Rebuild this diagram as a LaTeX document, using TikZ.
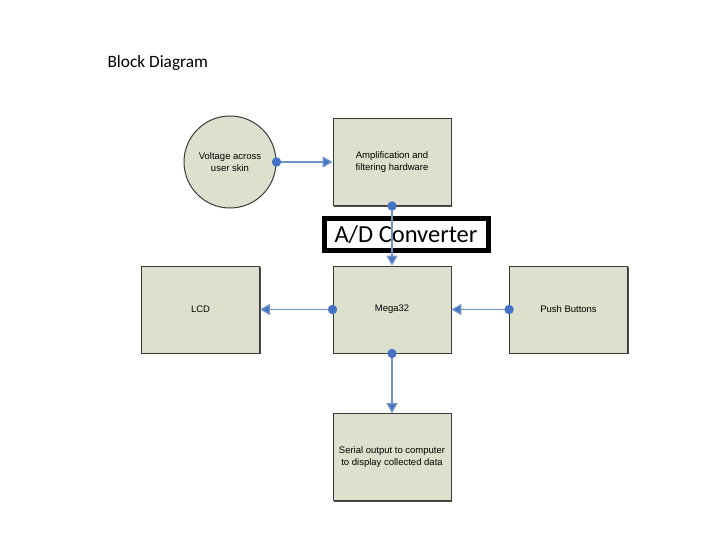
\documentclass[tikz,border=0pt]{standalone}
\usepackage{fontspec}
\setmainfont{Liberation Sans}
\newfontfamily\calib{Carlito}
\usetikzlibrary{arrows.meta,shadows}
\definecolor{boxfill}{HTML}{DDE0CC}
\definecolor{boxline}{HTML}{3A3A3A}
\definecolor{linkblue}{HTML}{6F93C6}
\definecolor{dotblue}{HTML}{4472C4}
\tikzset{
  blk/.style={draw=boxline, line width=0.9pt, fill=boxfill, minimum width=118pt, minimum height=87pt, inner sep=2pt, align=center, font=\fontsize{9.5}{12.5}\selectfont,
    drop shadow={shadow xshift=1.2pt, shadow yshift=-1.2pt, fill=black!70, opacity=1}},
  src/.style={draw=boxline, line width=1pt, fill=boxfill, circle, minimum size=92pt, inner sep=0pt, align=center, font=\fontsize{9.5}{12.5}\selectfont},
  link/.style={draw=linkblue, line width=1.3pt, -{Triangle[width=11pt,length=10pt,fill=dotblue]}},
  dot/.style={fill=dotblue}
}
\begin{document}
\begin{tikzpicture}[x=1pt,y=-1pt]
\useasboundingbox (0,0) rectangle (720,540);
\node[anchor=west, font=\calib\fontsize{17.3}{20}\selectfont] (title) at (104,63) {Block Diagram};
\node[src] (volt) at (230,162) {Voltage across\\user skin};
\node[blk] (amp) at (392,162) {Amplification and\\filtering hardware};
\node[blk] (mega) at (392,309.5) {Mega32};
\node[blk] (lcd) at (200.5,309.5) {LCD};
\node[blk] (push) at (568.5,309.5) {Push Buttons};
\node[blk] (serial) at (392,457) {Serial output to computer\\to display collected data};
\node[draw=black, line width=5pt, fill=white, minimum width=164pt, minimum height=31pt, inner sep=0pt, font=\calib\fontsize{24.5}{28}\selectfont] (adc) at (406,234.5) {A/D Converter};
\draw[link] (volt.east) -- (amp.west);
\draw[link] (amp.south) -- (mega.north);
\draw[link] (mega.west) -- (lcd.east);
\draw[link] (push.west) -- (mega.east);
\draw[link] (mega.south) -- (serial.north);
\fill[dot] (volt.east) circle (4.7);
\fill[dot] (amp.south) circle (4.7);
\fill[dot] (mega.west) circle (4.7);
\fill[dot] (push.west) circle (4.7);
\fill[dot] (mega.south) circle (4.7);
\end{tikzpicture}
\end{document}
